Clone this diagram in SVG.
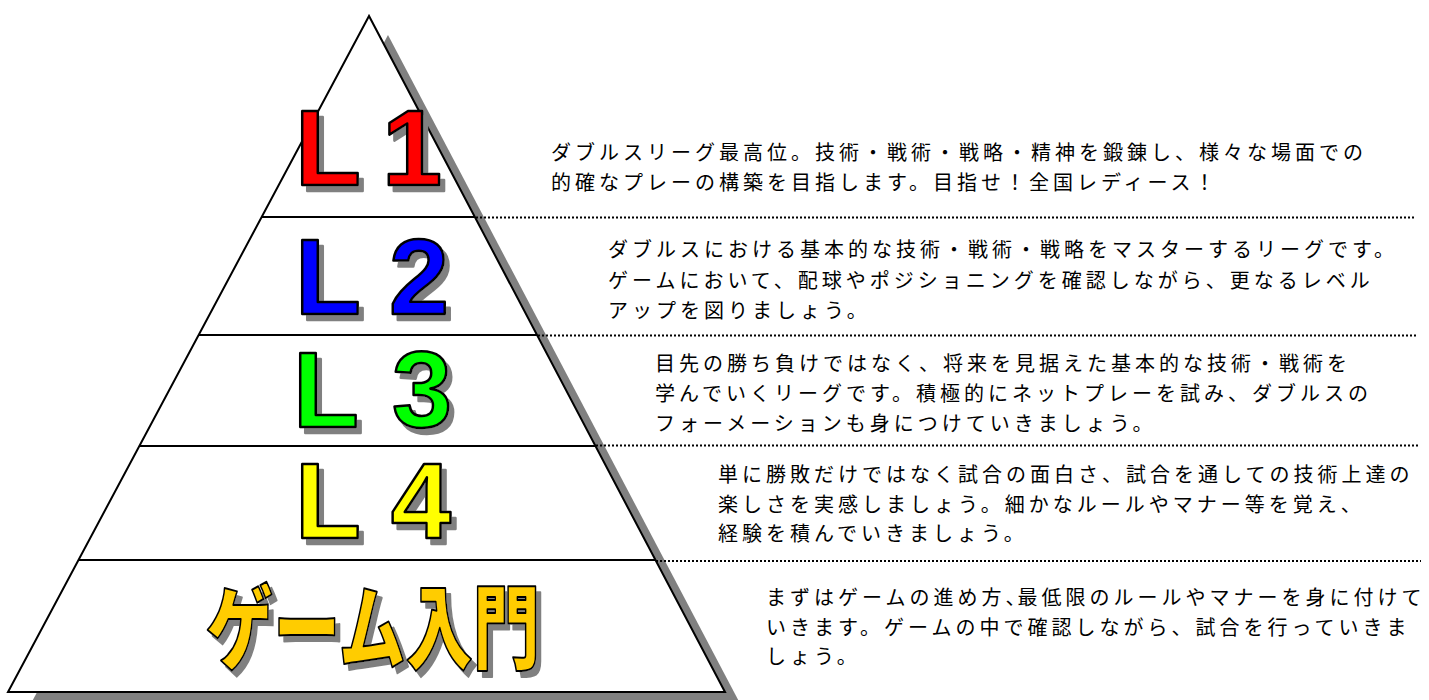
<svg xmlns="http://www.w3.org/2000/svg" width="1429" height="700" viewBox="0 0 1429 700">
<style>
.lvl{font-family:"Liberation Sans",Arial,sans-serif;font-weight:bold;font-size:108px;stroke:#000;stroke-width:2.5px;stroke-linejoin:round;filter:url(#shadow)}
.jp{font-family:"Noto Sans CJK JP",sans-serif;font-weight:900;font-size:92px;stroke:#000;stroke-width:2px;stroke-linejoin:round;filter:url(#shadow)}
.desc{font-family:"Noto Sans CJK JP",sans-serif;font-size:20px;letter-spacing:4px;fill:#000}
.edge{stroke:#000;stroke-width:2;fill:none}
.dot{stroke:#000;stroke-width:2;stroke-dasharray:2 2;fill:none}
</style>
<defs>
<filter id="shadow" x="-10%" y="-10%" width="130%" height="130%">
<feFlood flood-color="#808080" result="g"/>
<feComposite in="g" in2="SourceAlpha" operator="in" result="s"/>
<feOffset in="s" dx="5" dy="6" result="o"/>
<feMerge><feMergeNode in="o"/><feMergeNode in="SourceGraphic"/></feMerge>
</filter>
</defs>
<rect width="1429" height="700" fill="#fff"/>
<g id="pyramid">
<polygon points="388,35 27,711 744,711" fill="#808080"/>
<polygon points="369,16 8,692 725,692" fill="#fff" stroke="#000" stroke-width="2" stroke-linejoin="miter"/>
<line class="edge" x1="262" y1="217" x2="475" y2="217"/>
<line class="edge" x1="199" y1="335" x2="537" y2="335"/>
<line class="edge" x1="139" y1="446" x2="595" y2="446"/>
<line class="edge" x1="78" y1="560" x2="655" y2="560"/>
</g>
<g id="connectors">
<line class="dot" x1="476" y1="217.5" x2="1415" y2="217.5"/>
<line class="dot" x1="538" y1="335.5" x2="1417" y2="335.5"/>
<line class="dot" x1="596" y1="445.5" x2="1419" y2="445.5"/>
<line class="dot" x1="656" y1="561" x2="1421" y2="561"/>
</g>
<g id="level-L1">
<text class="lvl" x="295" y="185" fill="#ff0000">L <tspan dx="-7">1</tspan></text>
<text class="desc" x="551" y="160">ダブルスリーグ最高位。技術・戦術・戦略・精神を鍛錬し、様々な場面での</text>
<text class="desc" x="551" y="190">的確なプレーの構築を目指します。目指せ！全国レディース！</text>
</g>
<g id="level-L2">
<text class="lvl" x="295" y="314" fill="#0000ff">L 2</text>
<text class="desc" x="608" y="257">ダブルスにおける基本的な技術・戦術・戦略をマスターするリーグです。</text>
<text class="desc" x="608" y="288">ゲームにおいて、配球やポジショニングを確認しながら、更なるレベル</text>
<text class="desc" x="608" y="318">アップを図りましょう。</text>
</g>
<g id="level-L3">
<text class="lvl" x="293" y="427" fill="#00ff00">L <tspan dx="5">3</tspan></text>
<text class="desc" x="655" y="371">目先の勝ち負けではなく、将来を見据えた基本的な技術・戦術を</text>
<text class="desc" x="655" y="401">学んでいくリーグです。積極的にネットプレーを試み、ダブルスの</text>
<text class="desc" x="655" y="431">フォーメーションも身につけていきましょう。</text>
</g>
<g id="level-L4">
<text class="lvl" x="295" y="538" fill="#ffff00">L <tspan dx="2">4</tspan></text>
<text class="desc" x="718" y="482">単に勝敗だけではなく試合の面白さ、試合を通しての技術上達の</text>
<text class="desc" x="718" y="512">楽しさを実感しましょう。細かなルールやマナー等を覚え、</text>
<text class="desc" x="718" y="541">経験を積んでいきましょう。</text>
</g>
<g id="level-intro">
<text class="jp" x="206" y="662" fill="#ffcc00" textLength="334" lengthAdjust="spacingAndGlyphs">ゲーム入門</text>
<text class="desc" x="766" y="605">まずはゲームの進め方、<tspan dx="-12">最低限のルールやマナーを身に付けて</tspan></text>
<text class="desc" x="766" y="635">いきます。ゲームの中で確認しながら、試合を行っていきま</text>
<text class="desc" x="766" y="664">しょう。</text>
</g>
</svg>
